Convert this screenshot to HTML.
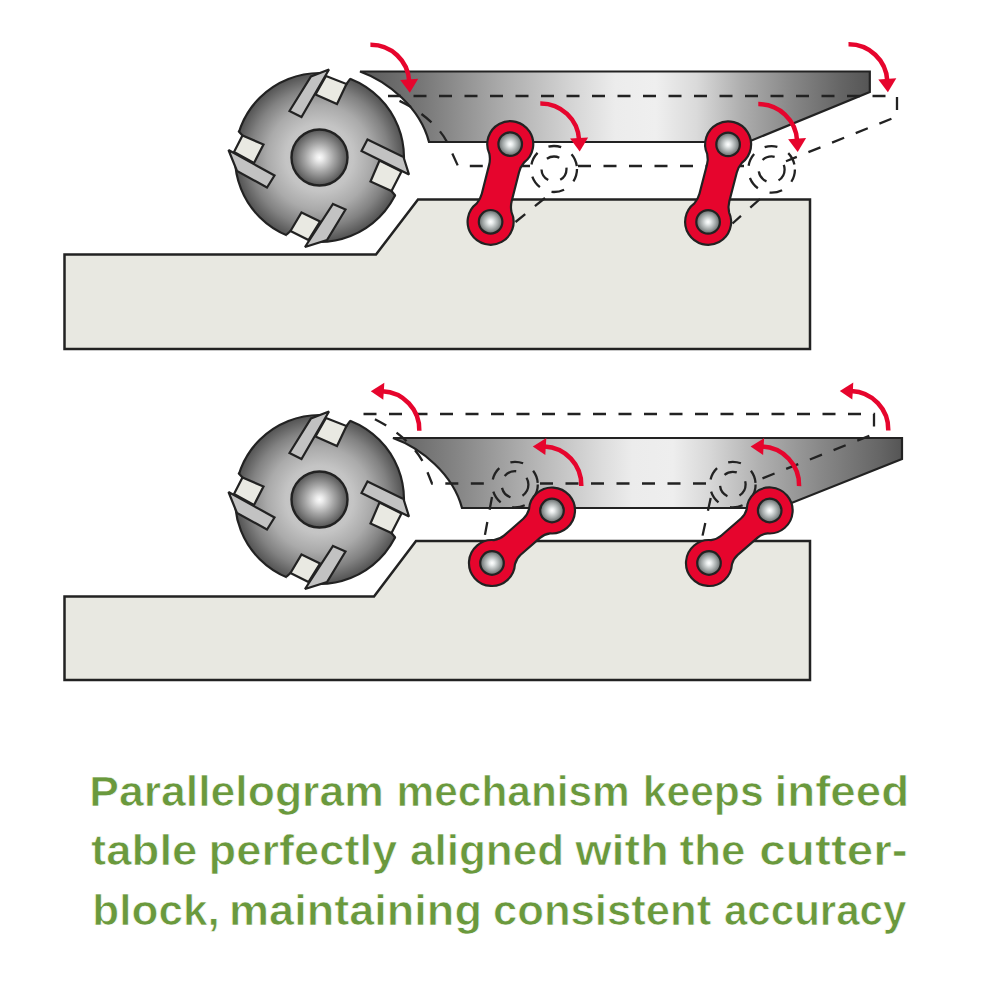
<!DOCTYPE html>
<html lang="en"><head><meta charset="utf-8"><title>Parallelogram mechanism</title>
<style>
html,body{margin:0;padding:0;background:#fff;}
body{width:1000px;height:1000px;position:relative;overflow:hidden;font-family:"Liberation Sans",sans-serif;}
</style></head><body>
<svg width="1000" height="1000" viewBox="0 0 1000 1000" style="position:absolute;left:0;top:0">
<defs>
<radialGradient id="hub" cx="0.5" cy="0.5" r="0.5">
<stop offset="0" stop-color="#fbfbfb"/><stop offset="0.12" stop-color="#ececec"/><stop offset="0.5" stop-color="#a8a8a8"/><stop offset="0.85" stop-color="#6e6e6e"/><stop offset="1" stop-color="#545454"/>
</radialGradient>
<radialGradient id="pin" cx="0.5" cy="0.5" r="0.5">
<stop offset="0" stop-color="#ffffff"/><stop offset="0.2" stop-color="#e8ecec"/><stop offset="0.65" stop-color="#a0a6a6"/><stop offset="1" stop-color="#626868"/>
</radialGradient>
<radialGradient id="bodya" gradientUnits="userSpaceOnUse" cx="319.5" cy="157.5" r="84.5">
<stop offset="0" stop-color="#cecece"/><stop offset="0.4" stop-color="#c4c4c4"/><stop offset="0.62" stop-color="#aaaaaa"/><stop offset="0.82" stop-color="#828282"/><stop offset="0.94" stop-color="#626262"/><stop offset="1" stop-color="#525252"/>
</radialGradient>
<radialGradient id="bodyb" gradientUnits="userSpaceOnUse" cx="319.5" cy="499.5" r="84.5">
<stop offset="0" stop-color="#cecece"/><stop offset="0.4" stop-color="#c4c4c4"/><stop offset="0.62" stop-color="#aaaaaa"/><stop offset="0.82" stop-color="#828282"/><stop offset="0.94" stop-color="#626262"/><stop offset="1" stop-color="#525252"/>
</radialGradient>
<linearGradient id="taba" gradientUnits="userSpaceOnUse" x1="360" y1="0" x2="870" y2="0">
<stop offset="0" stop-color="#5a5a5a"/><stop offset="0.12" stop-color="#777777"/><stop offset="0.275" stop-color="#aaaaaa"/><stop offset="0.42" stop-color="#d6d6d6"/><stop offset="0.5" stop-color="#ececec"/><stop offset="0.58" stop-color="#efefef"/><stop offset="0.66" stop-color="#dadada"/><stop offset="0.75" stop-color="#adadad"/><stop offset="0.85" stop-color="#868686"/><stop offset="0.94" stop-color="#666666"/><stop offset="1" stop-color="#555555"/>
</linearGradient>
<linearGradient id="tabb" gradientUnits="userSpaceOnUse" x1="393" y1="0" x2="902" y2="0">
<stop offset="0" stop-color="#626262"/><stop offset="0.13" stop-color="#868686"/><stop offset="0.31" stop-color="#bebebe"/><stop offset="0.41" stop-color="#dcdcdc"/><stop offset="0.47" stop-color="#ececec"/><stop offset="0.55" stop-color="#eeeeee"/><stop offset="0.62" stop-color="#d8d8d8"/><stop offset="0.72" stop-color="#b0b0b0"/><stop offset="0.84" stop-color="#888888"/><stop offset="0.955" stop-color="#666666"/><stop offset="1" stop-color="#555555"/>
</linearGradient>
</defs>
<rect width="1000" height="1000" fill="#fff"/>
<polygon points="64.5,254.5 376,254.5 418,199.5 810,199.5 810,349 64.5,349" fill="#e8e8e1" stroke="#222" stroke-width="2.5"/>
<circle cx="319.5" cy="157.5" r="84.5" fill="url(#bodya)" stroke="#222" stroke-width="2.2"/>
<polygon points="329,69.5 325.2,76 346.5,84 350,79.2 353,62 330,60" fill="#fff"/>
<polygon points="409,174.5 401.5,171.5 391.5,191 395,195.3 412,199 417,176" fill="#fff"/>
<polygon points="305,247 308.5,240 290.5,231 287,234.2 284,249 304,251" fill="#fff"/>
<polygon points="228.5,150 234,152 242.5,135.5 238.8,131.5 222,127 220,150" fill="#fff"/>
<path d="M346.5,84 L350,79.2" stroke="#222" stroke-width="2.2" stroke-linecap="round"/>
<path d="M391.5,191 L395,195.3" stroke="#222" stroke-width="2.2" stroke-linecap="round"/>
<path d="M290.5,231 L287,234.2" stroke="#222" stroke-width="2.2" stroke-linecap="round"/>
<path d="M242.5,135.5 L238.8,131.5" stroke="#222" stroke-width="2.2" stroke-linecap="round"/>
<polygon points="326,76 346.5,84 337,104 315.5,94.5" fill="#e9e9e2" stroke="#222" stroke-width="2.2" stroke-linejoin="miter"/>
<polygon points="379.5,160.5 401.5,171.5 391.5,191 370.5,181.5" fill="#e9e9e2" stroke="#222" stroke-width="2.2" stroke-linejoin="miter"/>
<polygon points="301.5,212.5 320,221.5 308.5,240 290.5,231" fill="#e9e9e2" stroke="#222" stroke-width="2.2" stroke-linejoin="miter"/>
<polygon points="242.5,135.5 263.5,144.5 254,163 234,152" fill="#e9e9e2" stroke="#222" stroke-width="2.2" stroke-linejoin="miter"/>
<polygon points="289.5,111 301.5,117 329,69.5 311,76.5" fill="#c2c2c2" stroke="#222" stroke-width="2.2" stroke-linejoin="miter" stroke-miterlimit="2.5"/>
<polygon points="367.5,139.5 403.5,157 409,174.5 361.5,151" fill="#c2c2c2" stroke="#222" stroke-width="2.2" stroke-linejoin="miter" stroke-miterlimit="2.5"/>
<polygon points="333,204 345.5,209.5 327,240 305,247" fill="#c2c2c2" stroke="#222" stroke-width="2.2" stroke-linejoin="miter" stroke-miterlimit="2.5"/>
<polygon points="228.5,150 237,171 267,187.5 274.5,175.5" fill="#c2c2c2" stroke="#222" stroke-width="2.2" stroke-linejoin="miter" stroke-miterlimit="2.5"/>
<circle cx="319.5" cy="157.5" r="28" fill="url(#hub)" stroke="#222" stroke-width="2.4"/>
<path d="M360,71.5 L869.8,71.5 L869.8,92 L748,142 L429,142 C420,107.5 388,81.5 360,71.5 Z" fill="url(#taba)" stroke="#222" stroke-width="2.2" stroke-linejoin="miter"/>
<path d="M388,96 L897,96 L897,116.5 L786,161.2" fill="none" stroke="#222" stroke-width="2.3" stroke-dasharray="13 12.5"/>
<path d="M388,96 C420,108 440,128 447,142 L458,166 L530,166" fill="none" stroke="#222" stroke-width="2.3" stroke-dasharray="13 12.5" stroke-dashoffset="13"/>
<path d="M578,166 L748,166" fill="none" stroke="#222" stroke-width="2.3" stroke-dasharray="13 12.5"/>
<circle cx="554" cy="169" r="23" fill="none" stroke="#222" stroke-width="2.3" stroke-dasharray="13 12.5"/>
<circle cx="554" cy="169" r="12.5" fill="none" stroke="#222" stroke-width="2.3" stroke-dasharray="13 12.5"/>
<circle cx="771.6" cy="169.4" r="23.3" fill="none" stroke="#222" stroke-width="2.3" stroke-dasharray="13 12.5"/>
<circle cx="771.6" cy="169.4" r="13" fill="none" stroke="#222" stroke-width="2.3" stroke-dasharray="13 12.5"/>
<path d="M545,198 L515.5,222" fill="none" stroke="#222" stroke-width="2.3" stroke-dasharray="13 12.5"/>
<path d="M760,199 L732.5,223.5" fill="none" stroke="#222" stroke-width="2.3" stroke-dasharray="13 12.5"/>
<g transform="translate(490.6,221.8) rotate(-75.8)"><path d="M14.5,17.9 Q19.5,15.4 25,15.4 L55.1,15.4 Q60.6,15.4 65.7,17.9 A23,23 0 1 0 65.7,-17.9 Q60.6,-15.4 55.1,-15.4 L25,-15.4 Q19.5,-15.4 14.5,-17.9 A23,23 0 1 0 14.5,17.9 Z" fill="#e6052d" stroke="#222" stroke-width="2.2" stroke-linejoin="round"/></g>
<circle cx="490.6" cy="221.8" r="11.8" fill="url(#pin)" stroke="#222" stroke-width="2.2"/>
<circle cx="510.2" cy="144.1" r="11.8" fill="url(#pin)" stroke="#222" stroke-width="2.2"/>
<g transform="translate(708.1,221.9) rotate(-75.5)"><path d="M14.5,17.9 Q19.5,15.4 25,15.4 L55,15.4 Q60.5,15.4 65.6,17.9 A23,23 0 1 0 65.6,-17.9 Q60.5,-15.4 55,-15.4 L25,-15.4 Q19.5,-15.4 14.5,-17.9 A23,23 0 1 0 14.5,17.9 Z" fill="#e6052d" stroke="#222" stroke-width="2.2" stroke-linejoin="round"/></g>
<circle cx="708.1" cy="221.9" r="11.8" fill="url(#pin)" stroke="#222" stroke-width="2.2"/>
<circle cx="728.1" cy="144.4" r="11.8" fill="url(#pin)" stroke="#222" stroke-width="2.2"/>
<path d="M370.4,44.8 A38.5,38.5 0 0 1 409.2,81.3" fill="none" stroke="#e6052d" stroke-width="4.5"/>
<polygon points="400.2,79.9 418.2,78.7 409.8,92.8" fill="#e6052d"/>
<path d="M540.3,103.5 A38.5,38.5 0 0 1 579.1,140" fill="none" stroke="#e6052d" stroke-width="4.5"/>
<polygon points="570.1,138.6 588.1,137.4 579.7,151.5" fill="#e6052d"/>
<path d="M848.5,44.3 A38.5,38.5 0 0 1 887.3,80.8" fill="none" stroke="#e6052d" stroke-width="4.5"/>
<polygon points="878.3,79.4 896.3,78.2 887.9,92.3" fill="#e6052d"/>
<path d="M758.3,104.1 A38.5,38.5 0 0 1 797.1,140.6" fill="none" stroke="#e6052d" stroke-width="4.5"/>
<polygon points="788.1,139.2 806.1,138 797.7,152.1" fill="#e6052d"/>
<polygon points="64.5,596.5 374,596.5 416,541 810,541 810,680 64.5,680" fill="#e8e8e1" stroke="#222" stroke-width="2.5"/>
<circle cx="319.5" cy="499.5" r="84.5" fill="url(#bodyb)" stroke="#222" stroke-width="2.2"/>
<polygon points="329,411.5 325.2,418 346.5,426 350,421.2 353,404 330,402" fill="#fff"/>
<polygon points="409,516.5 401.5,513.5 391.5,533 395,537.3 412,541 417,518" fill="#fff"/>
<polygon points="305,589 308.5,582 290.5,573 287,576.2 284,591 304,593" fill="#fff"/>
<polygon points="228.5,492 234,494 242.5,477.5 238.8,473.5 222,469 220,492" fill="#fff"/>
<path d="M346.5,426 L350,421.2" stroke="#222" stroke-width="2.2" stroke-linecap="round"/>
<path d="M391.5,533 L395,537.3" stroke="#222" stroke-width="2.2" stroke-linecap="round"/>
<path d="M290.5,573 L287,576.2" stroke="#222" stroke-width="2.2" stroke-linecap="round"/>
<path d="M242.5,477.5 L238.8,473.5" stroke="#222" stroke-width="2.2" stroke-linecap="round"/>
<polygon points="326,418 346.5,426 337,446 315.5,436.5" fill="#e9e9e2" stroke="#222" stroke-width="2.2" stroke-linejoin="miter"/>
<polygon points="379.5,502.5 401.5,513.5 391.5,533 370.5,523.5" fill="#e9e9e2" stroke="#222" stroke-width="2.2" stroke-linejoin="miter"/>
<polygon points="301.5,554.5 320,563.5 308.5,582 290.5,573" fill="#e9e9e2" stroke="#222" stroke-width="2.2" stroke-linejoin="miter"/>
<polygon points="242.5,477.5 263.5,486.5 254,505 234,494" fill="#e9e9e2" stroke="#222" stroke-width="2.2" stroke-linejoin="miter"/>
<polygon points="289.5,453 301.5,459 329,411.5 311,418.5" fill="#c2c2c2" stroke="#222" stroke-width="2.2" stroke-linejoin="miter" stroke-miterlimit="2.5"/>
<polygon points="367.5,481.5 403.5,499 409,516.5 361.5,493" fill="#c2c2c2" stroke="#222" stroke-width="2.2" stroke-linejoin="miter" stroke-miterlimit="2.5"/>
<polygon points="333,546 345.5,551.5 327,582 305,589" fill="#c2c2c2" stroke="#222" stroke-width="2.2" stroke-linejoin="miter" stroke-miterlimit="2.5"/>
<polygon points="228.5,492 237,513 267,529.5 274.5,517.5" fill="#c2c2c2" stroke="#222" stroke-width="2.2" stroke-linejoin="miter" stroke-miterlimit="2.5"/>
<circle cx="319.5" cy="499.5" r="28" fill="url(#hub)" stroke="#222" stroke-width="2.4"/>
<path d="M393,438 L902,438 L902,459 L779,508 L462,508 C453,474 421,448 393,438 Z" fill="url(#tabb)" stroke="#222" stroke-width="2.2" stroke-linejoin="miter"/>
<path d="M363.5,414 L874,414 L874,434 L757,480.5" fill="none" stroke="#222" stroke-width="2.3" stroke-dasharray="13 12.5"/>
<path d="M363.5,414 C398,428 418,450 425,466 L432,483.5 L488,483.5" fill="none" stroke="#222" stroke-width="2.3" stroke-dasharray="13 12.5" stroke-dashoffset="13"/>
<path d="M540,483.5 L708,483.5" fill="none" stroke="#222" stroke-width="2.3" stroke-dasharray="13 12.5"/>
<circle cx="515" cy="484.6" r="22.8" fill="none" stroke="#222" stroke-width="2.3" stroke-dasharray="13 12.5"/>
<circle cx="515" cy="484.6" r="13.4" fill="none" stroke="#222" stroke-width="2.3" stroke-dasharray="13 12.5"/>
<circle cx="732.8" cy="484.6" r="22.8" fill="none" stroke="#222" stroke-width="2.3" stroke-dasharray="13 12.5"/>
<circle cx="732.8" cy="484.6" r="12.8" fill="none" stroke="#222" stroke-width="2.3" stroke-dasharray="13 12.5"/>
<path d="M492,497 L484,540" fill="none" stroke="#222" stroke-width="2.3" stroke-dasharray="13 12.5"/>
<path d="M710.7,498 L701.6,540" fill="none" stroke="#222" stroke-width="2.3" stroke-dasharray="13 12.5"/>
<g transform="translate(492,563) rotate(-41.2)"><path d="M16.5,16 Q21.5,12.7 27,12.7 L52.7,12.7 Q58.2,12.7 63.2,16 A23,23 0 1 0 63.2,-16 Q58.2,-12.7 52.7,-12.7 L27,-12.7 Q21.5,-12.7 16.5,-16 A23,23 0 1 0 16.5,16 Z" fill="#e6052d" stroke="#222" stroke-width="2.2" stroke-linejoin="round"/></g>
<circle cx="492" cy="563" r="11.8" fill="url(#pin)" stroke="#222" stroke-width="2.2"/>
<circle cx="552" cy="510.5" r="11.8" fill="url(#pin)" stroke="#222" stroke-width="2.2"/>
<g transform="translate(709,563) rotate(-40.9)"><path d="M16.5,16 Q21.5,12.7 27,12.7 L53.3,12.7 Q58.8,12.7 63.7,16 A23,23 0 1 0 63.7,-16 Q58.8,-12.7 53.3,-12.7 L27,-12.7 Q21.5,-12.7 16.5,-16 A23,23 0 1 0 16.5,16 Z" fill="#e6052d" stroke="#222" stroke-width="2.2" stroke-linejoin="round"/></g>
<circle cx="709" cy="563" r="11.8" fill="url(#pin)" stroke="#222" stroke-width="2.2"/>
<circle cx="769.7" cy="510.5" r="11.8" fill="url(#pin)" stroke="#222" stroke-width="2.2"/>
<path d="M419.3,430.7 A38.5,38.5 0 0 0 382.3,391.2" fill="none" stroke="#e6052d" stroke-width="4.5"/>
<polygon points="384.3,382.7 383.3,399.7 370.8,391.2" fill="#e6052d"/>
<path d="M581.3,486 A38.5,38.5 0 0 0 544.3,446.5" fill="none" stroke="#e6052d" stroke-width="4.5"/>
<polygon points="546.3,438 545.3,455 532.8,446.5" fill="#e6052d"/>
<path d="M888.3,430.5 A38.5,38.5 0 0 0 851.3,391" fill="none" stroke="#e6052d" stroke-width="4.5"/>
<polygon points="853.3,382.5 852.3,399.5 839.8,391" fill="#e6052d"/>
<path d="M799.1,486.1 A38.5,38.5 0 0 0 762.1,446.6" fill="none" stroke="#e6052d" stroke-width="4.5"/>
<polygon points="764.1,438.1 763.1,455.1 750.6,446.6" fill="#e6052d"/>
<text x="89.28" y="805.6" textLength="294.52" lengthAdjust="spacingAndGlyphs" font-family="'Liberation Sans', sans-serif" font-weight="bold" font-size="42" fill="#6a993d" stroke="#fff" stroke-width="0.7">Parallelogram</text>
<text x="396.63" y="805.6" textLength="233.15" lengthAdjust="spacingAndGlyphs" font-family="'Liberation Sans', sans-serif" font-weight="bold" font-size="42" fill="#6a993d" stroke="#fff" stroke-width="0.7">mechanism</text>
<text x="642.70" y="805.6" textLength="120.96" lengthAdjust="spacingAndGlyphs" font-family="'Liberation Sans', sans-serif" font-weight="bold" font-size="42" fill="#6a993d" stroke="#fff" stroke-width="0.7">keeps</text>
<text x="774.49" y="805.6" textLength="134.69" lengthAdjust="spacingAndGlyphs" font-family="'Liberation Sans', sans-serif" font-weight="bold" font-size="42" fill="#6a993d" stroke="#fff" stroke-width="0.7">infeed</text>
<text x="91.11" y="865" textLength="106.29" lengthAdjust="spacingAndGlyphs" font-family="'Liberation Sans', sans-serif" font-weight="bold" font-size="42" fill="#6a993d" stroke="#fff" stroke-width="0.7">table</text>
<text x="208.63" y="865" textLength="188.61" lengthAdjust="spacingAndGlyphs" font-family="'Liberation Sans', sans-serif" font-weight="bold" font-size="42" fill="#6a993d" stroke="#fff" stroke-width="0.7">perfectly</text>
<text x="409.99" y="865" textLength="154.21" lengthAdjust="spacingAndGlyphs" font-family="'Liberation Sans', sans-serif" font-weight="bold" font-size="42" fill="#6a993d" stroke="#fff" stroke-width="0.7">aligned</text>
<text x="575.16" y="865" textLength="93.56" lengthAdjust="spacingAndGlyphs" font-family="'Liberation Sans', sans-serif" font-weight="bold" font-size="42" fill="#6a993d" stroke="#fff" stroke-width="0.7">with</text>
<text x="679.63" y="865" textLength="65.79" lengthAdjust="spacingAndGlyphs" font-family="'Liberation Sans', sans-serif" font-weight="bold" font-size="42" fill="#6a993d" stroke="#fff" stroke-width="0.7">the</text>
<text x="759.33" y="865" textLength="148.42" lengthAdjust="spacingAndGlyphs" font-family="'Liberation Sans', sans-serif" font-weight="bold" font-size="42" fill="#6a993d" stroke="#fff" stroke-width="0.7">cutter-</text>
<text x="92.31" y="925" textLength="127.44" lengthAdjust="spacingAndGlyphs" font-family="'Liberation Sans', sans-serif" font-weight="bold" font-size="42" fill="#6a993d" stroke="#fff" stroke-width="0.7">block,</text>
<text x="229.05" y="925" textLength="252.89" lengthAdjust="spacingAndGlyphs" font-family="'Liberation Sans', sans-serif" font-weight="bold" font-size="42" fill="#6a993d" stroke="#fff" stroke-width="0.7">maintaining</text>
<text x="492.99" y="925" textLength="218.32" lengthAdjust="spacingAndGlyphs" font-family="'Liberation Sans', sans-serif" font-weight="bold" font-size="42" fill="#6a993d" stroke="#fff" stroke-width="0.7">consistent</text>
<text x="723.95" y="925" textLength="182.45" lengthAdjust="spacingAndGlyphs" font-family="'Liberation Sans', sans-serif" font-weight="bold" font-size="42" fill="#6a993d" stroke="#fff" stroke-width="0.7">accuracy</text>
</svg>
</body></html>
